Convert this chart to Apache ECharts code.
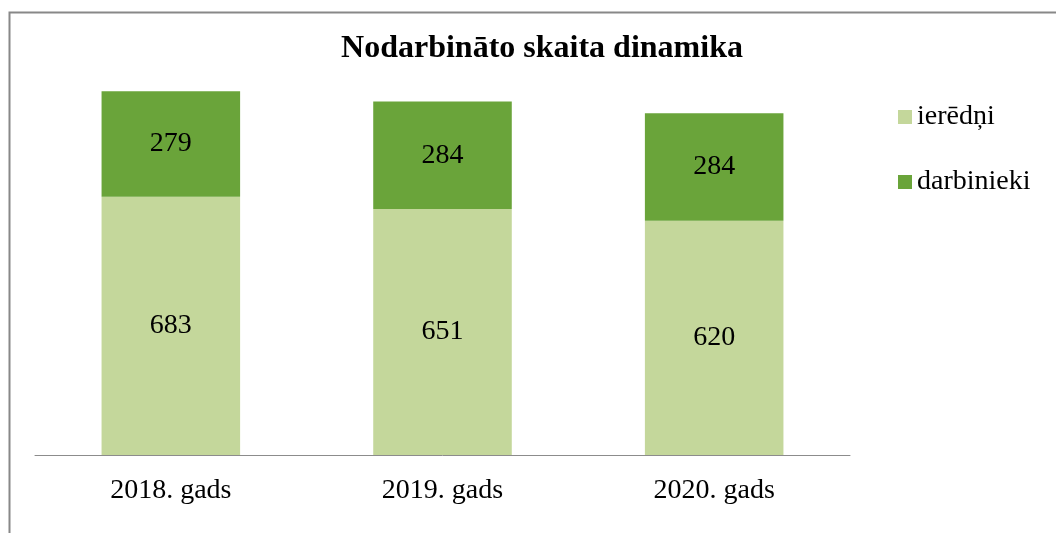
<!DOCTYPE html>
<html>
<head>
<meta charset="utf-8">
<script src="https://cdn.jsdelivr.net/npm/echarts@6/dist/echarts.min.js"></script>
<style>
  html, body { margin: 0; padding: 0; background: #fff; }
  #chart { width: 1056px; height: 533px; }
</style>
</head>
<body>
<div id="chart"></div>
<script>
  const years = ['2018. gads', '2019. gads', '2020. gads'];
  const ieredni = [683, 651, 620];
  const darbinieki = [279, 284, 284];
  const seriesNames = ['ierēdņi', 'darbinieki'];

  const font = '"Liberation Serif", "Times New Roman", serif';
  const lightGreen = '#c4d79b';
  const darkGreen = '#6aa43a';

  const chart = echarts.init(document.getElementById('chart'));
  chart.setOption({
    animation: false,
    textStyle: { fontFamily: font },
    // outer chart border
    graphic: [{
      type: 'rect', left: 7, top: 10, silent: true,
      shape: { width: 1100, height: 600 },
      style: { fill: 'none', stroke: '#888', lineWidth: 2 }
    }],
    title: {
      text: 'Nodarbināto skaita dinamika',
      left: 537, top: 28, textAlign: 'center',
      textStyle: { fontFamily: font, fontSize: 32, fontWeight: 'bold', color: '#000' }
    },
    legend: {
      orient: 'vertical', left: 893, top: 98,
      itemWidth: 14, itemHeight: 14, itemGap: 37,
      icon: 'rect',
      textStyle: { fontFamily: font, fontSize: 28, color: '#000' },
      data: seriesNames
    },
    grid: { left: 35, right: 206, top: 77, bottom: 78 },
    xAxis: {
      type: 'category', data: years,
      axisLine: { lineStyle: { color: '#8c8c8c', width: 1 } },
      axisTick: { show: false },
      axisLabel: { fontFamily: font, fontSize: 28, color: '#000', margin: 22 }
    },
    yAxis: {
      type: 'value', min: 0, max: 1000, show: false,
      splitLine: { show: false }
    },
    series: [
      {
        name: seriesNames[0], type: 'bar', stack: 'total', barWidth: '51%',
        data: ieredni, itemStyle: { color: lightGreen },
        label: { show: true, position: 'inside', fontFamily: font, fontSize: 28, color: '#000' }
      },
      {
        name: seriesNames[1], type: 'bar', stack: 'total', barWidth: '51%',
        data: darbinieki, itemStyle: { color: darkGreen },
        label: { show: true, position: 'inside', fontFamily: font, fontSize: 28, color: '#000' }
      }
    ]
  });
</script>
</body>
</html>
